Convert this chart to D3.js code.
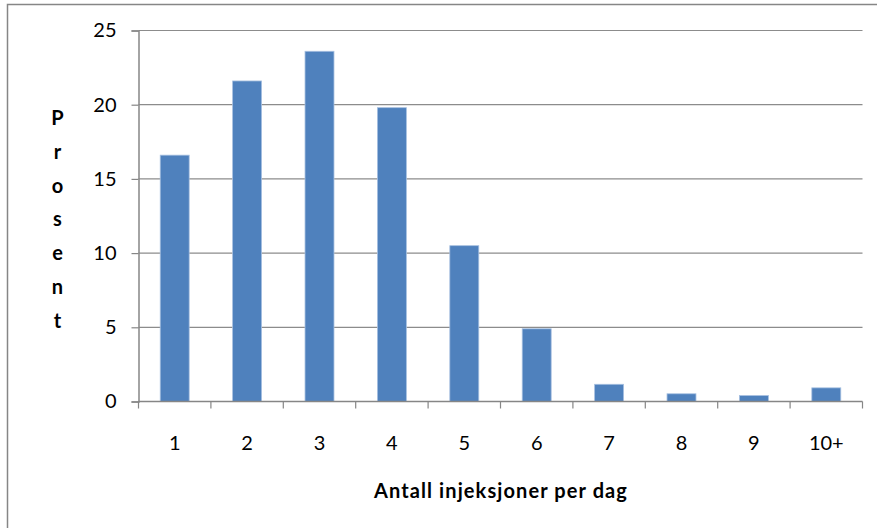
<!DOCTYPE html>
<html>
<head>
<meta charset="utf-8">
<script src="https://cdn.jsdelivr.net/npm/d3@7"></script>
<style>
  html, body { margin: 0; padding: 0; background: #fff; }
  svg { display: block; }
  text { font-family: Lato, "Liberation Sans", sans-serif; fill: #000; }
</style>
</head>
<body>
<svg id="chart" width="877" height="528"></svg>
<script>
const categories = ["1", "2", "3", "4", "5", "6", "7", "8", "9", "10+"];
const values = [16.6, 21.6, 23.6, 19.8, 10.5, 4.9, 1.16, 0.52, 0.4, 0.92];
const yTicks = [0, 5, 10, 15, 20, 25];
const yTitle = "Prosent";
const xTitle = "Antall injeksjoner per dag";

const svg = d3.select("#chart");
const W = 877, H = 528;
const m = { left: 138.5, right: W - 862.5, top: 30.5, bottom: H - 401.5 };

// outer border (cropped at right/bottom)
svg.append("rect")
  .attr("x", 7.5).attr("y", 4.5)
  .attr("width", W + 10).attr("height", H + 10)
  .attr("fill", "#fff").attr("stroke", "#868686").attr("stroke-width", 1.5);

const x = d3.scaleBand().domain(categories).range([m.left, W - m.right]).paddingInner(0.6).paddingOuter(0.3);
const xb = d3.scaleBand().domain(categories).range([m.left, W - m.right]);
const y = d3.scaleLinear().domain([0, 25]).range([H - m.bottom, m.top]);

// gridlines
svg.append("g").selectAll("line").data(yTicks.filter(d => d > 0)).join("line")
  .attr("x1", m.left).attr("x2", W - m.right)
  .attr("y1", d => y(d)).attr("y2", d => y(d))
  .attr("stroke", "#8c8c8c").attr("stroke-width", 1.2);

// bars
svg.append("g").selectAll("rect").data(values).join("rect")
  .attr("x", (d, i) => x(categories[i]))
  .attr("y", d => y(d))
  .attr("width", x.bandwidth())
  .attr("height", d => y(0) - y(d))
  .attr("fill", "#4F81BD")
  .attr("stroke", "#A7C0E0").attr("stroke-width", 0.8);

// y axis
const yAxis = d3.axisLeft(y).tickValues(yTicks).tickSize(7).tickPadding(15);
const gy = svg.append("g").attr("transform", `translate(${m.left},0)`).call(yAxis);
gy.select(".domain").attr("stroke", "#868686").attr("stroke-width", 1.5);
gy.selectAll(".tick line").attr("stroke", "#868686").attr("stroke-width", 1.2);
gy.selectAll(".tick text").style("font-size", "20px").style("font-family", "Lato, sans-serif").attr("fill", "#000");

// x axis with ticks at band boundaries
const gx = svg.append("g").attr("transform", `translate(0,${y(0)})`);
gx.append("line").attr("x1", m.left).attr("x2", W - m.right).attr("y1", 0).attr("y2", 0)
  .attr("stroke", "#868686").attr("stroke-width", 1.5);
const bounds = categories.map(c => xb(c)).concat([W - m.right]);
gx.selectAll(".bt").data(bounds).join("line").attr("class", "bt")
  .attr("x1", d => d).attr("x2", d => d).attr("y1", 0).attr("y2", 7)
  .attr("stroke", "#868686").attr("stroke-width", 1.2);
gx.selectAll(".lbl").data(categories).join("text").attr("class", "lbl")
  .attr("x", d => xb(d) + xb.bandwidth() / 2).attr("y", 48.5)
  .attr("text-anchor", "middle").style("font-size", "20px").text(d => d);

// x title
svg.append("text").attr("x", 501).attr("y", 498).attr("text-anchor", "middle")
  .style("font-size", "20px").style("font-weight", "bold").style("letter-spacing", "1.1px").text(xTitle);

// y title: stacked letters
svg.append("g").selectAll("text").data(yTitle.split("")).join("text")
  .attr("x", 57.5).attr("y", (d, i) => 125 + i * 33.8)
  .attr("text-anchor", "middle").style("font-size", "20px").style("font-weight", "bold")
  .text(d => d);
</script>
</body>
</html>
